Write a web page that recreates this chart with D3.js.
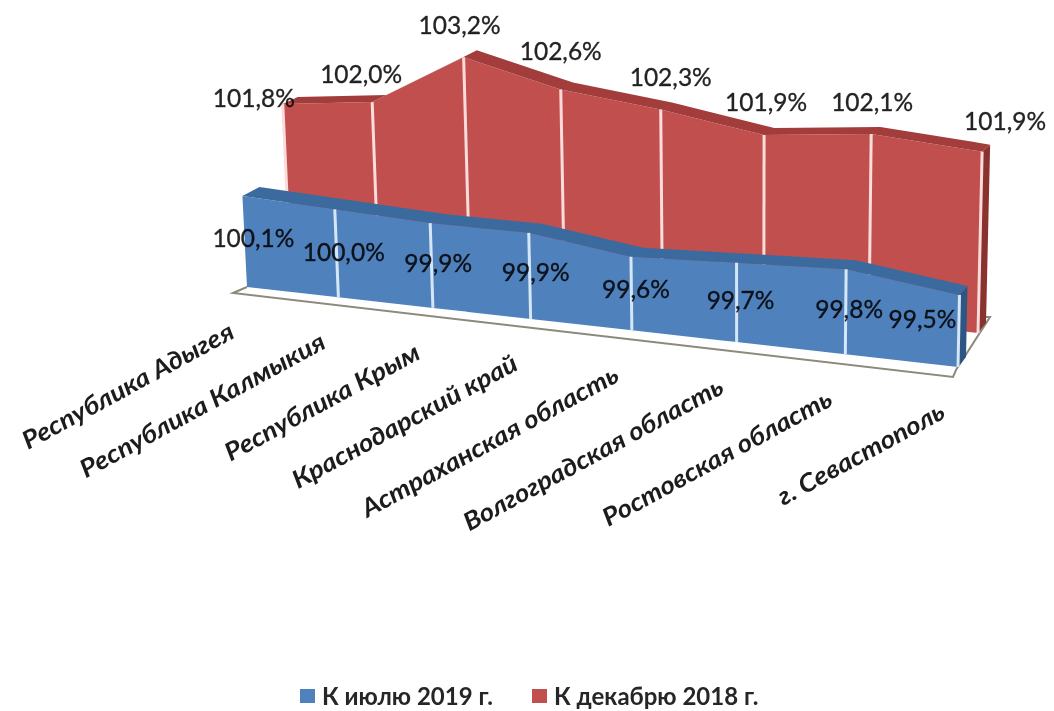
<!DOCTYPE html>
<html>
<head>
<meta charset="utf-8">
<script src="https://cdn.jsdelivr.net/npm/d3@7"></script>
<style>
  html, body { margin: 0; padding: 0; background: #fff; }
  text { font-family: Lato, "Open Sans", sans-serif; }
</style>
</head>
<body>
<script>
var categories = ['Республика Адыгея', 'Республика Калмыкия', 'Республика Крым', 'Краснодарский край',
  'Астраханская область', 'Волгоградская область', 'Ростовская область', 'г. Севастополь'];
var july2019 = [100.1, 100.0, 99.9, 99.9, 99.6, 99.7, 99.8, 99.5];
var december2018 = [101.8, 102.0, 103.2, 102.6, 102.3, 101.9, 102.1, 101.9];
var legendLabels = ['К июлю 2019 г.', 'К декабрю 2018 г.'];

// hand placed label offsets, relative to the top of each point
var julyNudgeX = [11, 9, 8, 7, 5, 4, 3, -37];
var julyNudgeY = [41, 42, 39, 39, 32, 37, 39, 23];
var decemberNudgeX = [-29, -11, -4, 0, 10, 2, 1, 23];
var decemberNudgeY = [-7, -29, -33, -39, -33, -34, -32, -31];

var width = 1054, height = 711;
var AXIS_MIN = 98, AXIS_MAX = 104;
var VANISH_X = 750; // verticals lean away from here

var svg = d3.select('body').append('svg')
  .attr('width', width)
  .attr('height', height)
  .style('display', 'block');

// slight softness, the reference is a blurred scan
var soft = svg.append('defs').append('filter').attr('id', 'soft');
soft.append('feGaussianBlur').attr('stdDeviation', 0.45);

var chart = svg.append('g').attr('filter', 'url(#soft)');

// categories are squeezed towards the far (left) end of the floor
function depth(i) {
  var u = i / (categories.length - 1);
  return u / (1 + 0.13 * (1 - u));
}

var frontPlane = {
  x: d3.scaleLinear().domain([0, 1]).range([247, 958]),
  y: d3.scaleLinear().domain([0, 1]).range([287, 367]),
  h: d3.scaleLinear().domain([AXIS_MIN, AXIS_MAX]).range([0, 6 * 43.3]),
  grow: 0.0154,
  dx: d3.scaleLinear().domain([0, 1]).range([17, 8]),
  dy: -9,
  face: '#4f81bd', band: '#3b6a9f', side: '#2f5682', rule: '#d4e6f8'
};
var backPlane = {
  x: d3.scaleLinear().domain([0, 1]).range([290, 978]),
  y: d3.scaleLinear().domain([0, 1]).range([261, 333]),
  h: d3.scaleLinear().domain([AXIS_MIN, AXIS_MAX]).range([0, 6 * 41.3]),
  grow: 0.018,
  dx: d3.scaleLinear().domain([0, 1]).range([15, 8]),
  dy: -7,
  face: '#c0504d', band: '#a33c3a', side: '#8a302e', rule: '#fbdcda'
};

function project(plane, values) {
  return values.map(function(v, i) {
    var t = depth(i);
    var h = plane.h(v) * (1 + plane.grow * i);
    var bx = plane.x(t), by = plane.y(t);
    var tx = bx + (bx - VANISH_X) * h * 0.0001;
    return {
      value: v, t: t, bx: bx, by: by, tx: tx, ty: by - h,
      backX: tx + plane.dx(t), backY: by - h + plane.dy,
      floorX: bx + plane.dx(t), floorY: by - 10
    };
  });
}

var face = d3.area()
  .x0(function(d) { return d.bx; }).y0(function(d) { return d.by; })
  .x1(function(d) { return d.tx; }).y1(function(d) { return d.ty; });
var band = d3.area()
  .x0(function(d) { return d.tx; }).y0(function(d) { return d.ty; })
  .x1(function(d) { return d.backX; }).y1(function(d) { return d.backY; });

// floor
var floorLeft = [frontPlane.x(0) - 14, frontPlane.y(0) + 6];
var floorRight = [frontPlane.x(1) - 5, frontPlane.y(1) + 10];
var floorBack = [backPlane.x(1) + 12, backPlane.y(1) - 16];
chart.append('path')
  .attr('d', d3.line()([
    [frontPlane.x(0), frontPlane.y(0)], floorLeft, floorRight,
    [floorRight[0] + 3, floorRight[1] - 7], floorBack, [floorBack[0] - 7, floorBack[1]]
  ]))
  .attr('fill', 'none')
  .attr('stroke', '#8d897c')
  .attr('stroke-width', 2);

function drawSeries(plane, values) {
  var pts = project(plane, values);
  var last = pts[pts.length - 1];
  var g = chart.append('g');

  g.append('path').attr('d', d3.line()([
    [last.tx, last.ty], [last.backX, last.backY], [last.floorX, last.floorY], [last.bx, last.by]
  ])).attr('fill', plane.side);

  g.append('path').attr('d', face(pts)).attr('fill', plane.face);
  g.append('path').attr('d', band(pts)).attr('fill', plane.band);

  // white rules at each category, the first one is skipped on the blue front
  g.selectAll('line.rule')
    .data(pts.filter(function(d, i) { return i > 0 || plane === backPlane; }))
    .enter().append('line')
    .attr('class', 'rule')
    .attr('x1', function(d) { return d.tx; })
    .attr('y1', function(d) { return d.ty; })
    .attr('x2', function(d) { return d.bx; })
    .attr('y2', function(d) { return d.by; })
    .attr('stroke', plane.rule)
    .attr('stroke-width', 3);
  return pts;
}

var decemberPts = drawSeries(backPlane, december2018);
var julyPts = drawSeries(frontPlane, july2019);

// value labels
function fmt(v) {
  return d3.format('.1f')(v).replace('.', ',') + '%';
}

function drawLabels(pts, nudgeX, nudgeY) {
  chart.append('g').selectAll('text')
    .data(pts)
    .enter().append('text')
    .attr('x', function(d, i) { return d.tx + nudgeX[i]; })
    .attr('y', function(d, i) { return d.ty + nudgeY[i]; })
    .attr('text-anchor', 'middle')
    .attr('dominant-baseline', 'central')
    .attr('font-size', 24.5)
    .attr('fill', '#000')
    .attr('stroke', '#000')
    .attr('stroke-width', 0.4)
    .attr('fill-opacity', 0.86)
    .attr('stroke-opacity', 0.7)
    .text(function(d) { return fmt(d.value); });
}

drawLabels(decemberPts, decemberNudgeX, decemberNudgeY);
drawLabels(julyPts, julyNudgeX, julyNudgeY);

// category labels, stretched along the floor direction
chart.append('g').selectAll('text')
  .data(categories)
  .enter().append('text')
  .attr('transform', function(d, i) {
    return 'translate(' + (julyPts[i].bx - 11) + ',' + (julyPts[i].by + 50) + ') rotate(-28.5) scale(1.1,1)';
  })
  .attr('text-anchor', 'end')
  .attr('font-size', 25)
  .attr('font-style', 'italic')
  .attr('font-weight', 700)
  .attr('fill', '#1c1c1c')
  .text(function(d) { return d; });

// legend
var legendX = [300, 532];
var legendColors = [frontPlane.face, backPlane.face];
var legend = chart.append('g').selectAll('g')
  .data(legendLabels)
  .enter().append('g')
  .attr('transform', function(d, i) { return 'translate(' + legendX[i] + ',689)'; });

legend.append('rect')
  .attr('width', 15)
  .attr('height', 14)
  .attr('fill', function(d, i) { return legendColors[i]; });

legend.append('text')
  .attr('x', 22)
  .attr('y', 6)
  .attr('dominant-baseline', 'central')
  .attr('font-size', 24)
  .attr('font-weight', 700)
  .attr('fill', '#262626')
  .text(function(d) { return d; });
</script>
</body>
</html>
